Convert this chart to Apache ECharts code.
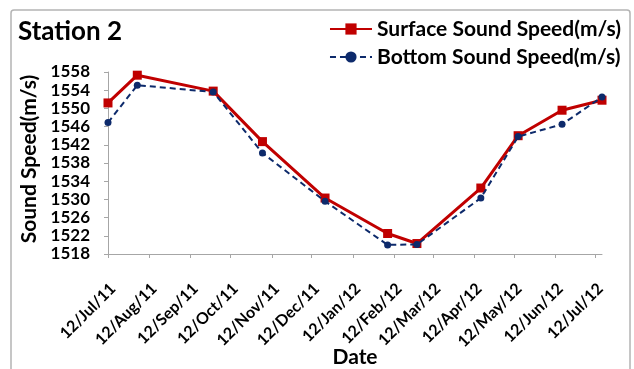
<!DOCTYPE html>
<html>
<head>
<meta charset="utf-8">
<script src="https://cdn.jsdelivr.net/npm/echarts@6/dist/echarts.min.js"></script>
<style>
  html, body { margin: 0; padding: 0; background: #fff; }
  #chart { width: 634px; height: 369px; }
</style>
</head>
<body>
<div id="chart"></div>
<script>
// Sampling dates (shared by both series)
const sampleDates = ['2011-07-12', '2011-08-03', '2011-09-29', '2011-11-05', '2011-12-22',
  '2012-02-07', '2012-02-29', '2012-04-17', '2012-05-15', '2012-06-17', '2012-07-17'];
// Sound speed at the surface and at the bottom (m/s)
const surfaceSpeed = [1551.2, 1557.3, 1553.8, 1542.7, 1530.3, 1522.5, 1520.3, 1532.5, 1544.0, 1549.6, 1551.8];
const bottomSpeed  = [1546.9, 1555.1, 1553.6, 1540.2, 1529.6, 1520.0, 1520.1, 1530.3, 1543.8, 1546.5, 1552.5];
// Monthly tick dates and their labels
const tickDates = ['2011-07-12', '2011-08-12', '2011-09-12', '2011-10-12', '2011-11-12', '2011-12-12',
  '2012-01-12', '2012-02-12', '2012-03-12', '2012-04-12', '2012-05-12', '2012-06-12', '2012-07-12'];
const tickLabels = ['12/Jul/11', '12/Aug/11', '12/Sep/11', '12/Oct/11', '12/Nov/11', '12/Dec/11',
  '12/Jan/12', '12/Feb/12', '12/Mar/12', '12/Apr/12', '12/May/12', '12/Jun/12', '12/Jul/12'];

const toMs = s => { const [y, m, d] = s.split('-').map(Number); return Date.UTC(y, m - 1, d); };
const tickMs = tickDates.map(toMs);
const labelByMs = {};
tickMs.forEach((t, i) => { labelByMs[t] = tickLabels[i]; });

const FONT = 'Lato';
const chart = echarts.init(document.getElementById('chart'));
chart.setOption({
  animation: false,
  backgroundColor: '#fff',
  textStyle: { fontFamily: FONT },
  grid: { left: 108, right: 32, top: 72, bottom: 115, containLabel: false },
  legend: {
    orient: 'vertical',
    right: 8,
    top: 12,
    itemWidth: 42,
    itemHeight: 14,
    itemGap: 4,
    textStyle: { fontFamily: FONT, fontWeight: 'bold', fontSize: 21, lineHeight: 24, color: '#000' },
    data: ['Surface Sound Speed(m/s)', 'Bottom Sound Speed(m/s)']
  },
  xAxis: {
    type: 'value',
    min: toMs(sampleDates[0]),
    max: toMs(sampleDates[sampleDates.length - 1]),
    axisLine: { lineStyle: { color: '#a6a6a6', width: 1 } },
    axisTick: { customValues: tickMs, length: 4, lineStyle: { color: '#a6a6a6' } },
    axisLabel: {
      customValues: tickMs,
      rotate: 45,
      fontFamily: FONT, fontWeight: 'bold', fontSize: 16, color: '#000',
      margin: 37,
      padding: [0, -7, 0, 0],
      formatter: v => labelByMs[v] || ''
    },
    splitLine: { show: false }
  },
  yAxis: {
    type: 'value',
    min: 1518,
    max: 1558,
    interval: 4,
    axisLine: { show: true, lineStyle: { color: '#a6a6a6', width: 1 } },
    axisTick: { show: true, length: 4, lineStyle: { color: '#a6a6a6' } },
    axisLabel: { fontFamily: FONT, fontWeight: 'bold', fontSize: 17, color: '#000', margin: 18,
                 formatter: v => String(v) },
    splitLine: { show: false }
  },
  graphic: [
    { type: 'rect', silent: true, z: -1,
      shape: { x: 11, y: 10, width: 619, height: 380, r: 3 },
      style: { fill: 'none', stroke: '#b4b4b4', lineWidth: 1.5 } },
    { type: 'text', x: 18, y: 32,
      style: { text: 'Station 2', fontFamily: FONT, fontWeight: 'bold', fontSize: 26, fill: '#000',
               align: 'left', verticalAlign: 'middle' } },
    { type: 'text', x: 29, y: 159, rotation: Math.PI / 2,
      style: { text: 'Sound Speed(m/s)', fontFamily: FONT, fontWeight: 'bold', fontSize: 21, fill: '#000',
               align: 'center', verticalAlign: 'middle' } },
    { type: 'text', x: 355, y: 357,
      style: { text: 'Date', fontFamily: FONT, fontWeight: 'bold', fontSize: 21, fill: '#000',
               align: 'center', verticalAlign: 'middle' } }
  ],
  series: [
    {
      name: 'Surface Sound Speed(m/s)',
      type: 'line',
      data: sampleDates.map((d, i) => [toMs(d), surfaceSpeed[i]]),
      symbol: 'rect',
      symbolSize: 9,
      itemStyle: { color: '#c00000' },
      lineStyle: { color: '#c00000', width: 3 },
      z: 2
    },
    {
      name: 'Bottom Sound Speed(m/s)',
      type: 'line',
      data: sampleDates.map((d, i) => [toMs(d), bottomSpeed[i]]),
      symbol: 'circle',
      symbolSize: 7,
      itemStyle: { color: '#0d2a6b' },
      lineStyle: { color: '#0d2a6b', width: 2, type: [6, 4] },
      z: 3
    }
  ]
});
</script>
</body>
</html>
